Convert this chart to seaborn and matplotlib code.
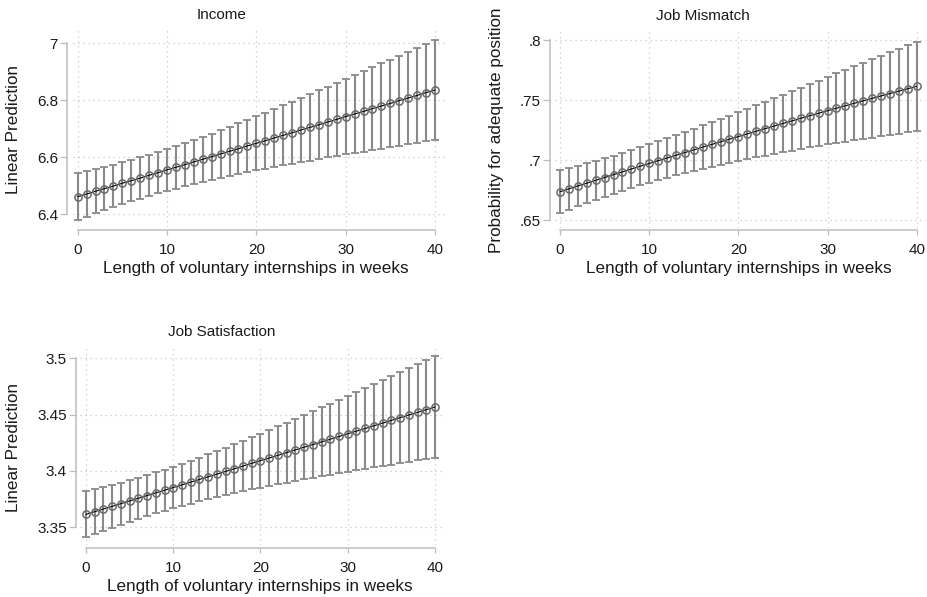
import matplotlib
matplotlib.use("Agg")
import matplotlib.pyplot as plt
import numpy as np
import pandas as pd
import seaborn as sns

# Predictive margins by internship length (weeks 0-40) with 95% CI half-widths
weeks = list(range(41))

income_pred = [6.462, 6.471, 6.481, 6.490, 6.499, 6.509, 6.518, 6.527, 6.537, 6.546,
               6.556, 6.565, 6.574, 6.584, 6.593, 6.602, 6.612, 6.621, 6.630, 6.640,
               6.649, 6.658, 6.668, 6.677, 6.686, 6.696, 6.705, 6.714, 6.724, 6.733,
               6.743, 6.752, 6.761, 6.771, 6.780, 6.789, 6.799, 6.808, 6.817, 6.827,
               6.836]
income_ci = [0.0815, 0.0794, 0.0775, 0.0759, 0.0746, 0.0736, 0.0729, 0.0725, 0.0725, 0.0728,
             0.0735, 0.0745, 0.0758, 0.0773, 0.0792, 0.0813, 0.0837, 0.0862, 0.0890, 0.0920,
             0.0951, 0.0984, 0.1018, 0.1053, 0.1089, 0.1127, 0.1165, 0.1204, 0.1244, 0.1284,
             0.1325, 0.1367, 0.1409, 0.1452, 0.1495, 0.1538, 0.1582, 0.1626, 0.1670, 0.1715,
             0.1760]

mismatch_pred = [0.6738, 0.6762, 0.6786, 0.6809, 0.6833, 0.6856, 0.6880, 0.6903, 0.6927, 0.6950,
                 0.6973, 0.6996, 0.7018, 0.7041, 0.7064, 0.7086, 0.7109, 0.7131, 0.7153, 0.7175,
                 0.7197, 0.7219, 0.7241, 0.7263, 0.7284, 0.7306, 0.7327, 0.7349, 0.7370, 0.7391,
                 0.7412, 0.7433, 0.7453, 0.7474, 0.7494, 0.7515, 0.7535, 0.7555, 0.7575, 0.7595,
                 0.7615]
mismatch_ci = [0.0178, 0.0174, 0.0170, 0.0166, 0.0163, 0.0161, 0.0159, 0.0159, 0.0158, 0.0159,
               0.0160, 0.0162, 0.0164, 0.0167, 0.0171, 0.0175, 0.0180, 0.0185, 0.0191, 0.0197,
               0.0203, 0.0210, 0.0217, 0.0224, 0.0232, 0.0240, 0.0248, 0.0256, 0.0264, 0.0272,
               0.0281, 0.0290, 0.0299, 0.0307, 0.0316, 0.0326, 0.0335, 0.0344, 0.0353, 0.0363,
               0.0372]

satisfaction_pred = [3.3615, 3.3639, 3.3663, 3.3686, 3.3710, 3.3734, 3.3758, 3.3782, 3.3806, 3.3829,
                     3.3853, 3.3877, 3.3901, 3.3925, 3.3949, 3.3972, 3.3996, 3.4020, 3.4044, 3.4068,
                     3.4092, 3.4115, 3.4139, 3.4163, 3.4187, 3.4211, 3.4234, 3.4258, 3.4282, 3.4306,
                     3.4330, 3.4354, 3.4377, 3.4401, 3.4425, 3.4449, 3.4473, 3.4497, 3.4520, 3.4544,
                     3.4568]
satisfaction_ci = [0.0205, 0.0199, 0.0195, 0.0190, 0.0187, 0.0184, 0.0182, 0.0182, 0.0181, 0.0182,
                   0.0184, 0.0187, 0.0190, 0.0194, 0.0199, 0.0204, 0.0211, 0.0217, 0.0224, 0.0232,
                   0.0240, 0.0249, 0.0258, 0.0267, 0.0276, 0.0286, 0.0296, 0.0306, 0.0316, 0.0327,
                   0.0337, 0.0348, 0.0359, 0.0370, 0.0381, 0.0392, 0.0403, 0.0415, 0.0426, 0.0437,
                   0.0449]

panel_titles = ["Income", "Job Mismatch", "Job Satisfaction"]
y_titles = ["Linear Prediction", "Probability for adequate position", "Linear Prediction"]
x_title = "Length of voluntary internships in weeks"
x_ticks = [0, 10, 20, 30, 40]
income_yticks = [6.4, 6.6, 6.8, 7.0]
income_yticklabels = ["6.4", "6.6", "6.8", "7"]
mismatch_yticks = [0.65, 0.70, 0.75, 0.80]
mismatch_yticklabels = [".65", ".7", ".75", ".8"]
satisfaction_yticks = [3.35, 3.40, 3.45, 3.50]
satisfaction_yticklabels = ["3.35", "3.4", "3.45", "3.5"]

sns.set_theme(style="ticks")
plt.rcParams["font.family"] = ["Liberation Sans", "DejaVu Sans"]

W, H = 928, 597
fig = plt.figure(figsize=(W / 100, H / 100), dpi=100)


def px_rect(left, top, right, bottom):
    return [left / W, 1 - bottom / H, (right - left) / W, (bottom - top) / H]


panels = [
    dict(pred=income_pred, ci=income_ci, yticks=income_yticks, ylabels=income_yticklabels,
         rect=px_rect(73, 30, 446, 227), xlim=(-0.526, 41.23), ylim=(6.3554, 7.0467),
         off_left=6, off_bottom=3, title_xy=(222, 15), xlab_xy=(256, 268), ylab_xy=(14, 130)),
    dict(pred=mismatch_pred, ci=mismatch_ci, yticks=mismatch_yticks, ylabels=mismatch_yticklabels,
         rect=px_rect(555, 29, 926, 228), xlim=(-0.561, 41.04), ylim=(0.6436, 0.8092),
         off_left=5, off_bottom=2, title_xy=(703, 16), xlab_xy=(739, 268), ylab_xy=(497, 130)),
    dict(pred=satisfaction_pred, ci=satisfaction_ci, yticks=satisfaction_yticks,
         ylabels=satisfaction_yticklabels,
         rect=px_rect(80, 346.7, 445, 545), xlim=(-0.688, 41.15), ylim=(3.3343, 3.5103),
         off_left=4, off_bottom=3.3, title_xy=(222, 332.5), xlab_xy=(260, 587), ylab_xy=(14, 447.5)),
]

axis_grey = "#bdbdbd"
bar_grey = "#8a8a8a"
text_col = "#1a1a1a"

for i, p in enumerate(panels):
    ax = fig.add_axes(p["rect"])
    df = pd.DataFrame({"weeks": weeks, "pred": p["pred"], "ci": p["ci"]})

    ax.errorbar(df["weeks"], df["pred"], yerr=df["ci"], fmt="none", ecolor=bar_grey,
                elinewidth=1.5, capsize=3.0, capthick=1.3, zorder=2)
    sns.lineplot(data=df, x="weeks", y="pred", ax=ax, color="black", linewidth=0.8,
                 marker="o", markersize=5.2, markerfacecolor="none",
                 markeredgecolor="#6a6a6a", markeredgewidth=1.1, errorbar=None, zorder=3)

    ax.set_xlim(*p["xlim"])
    ax.set_ylim(*p["ylim"])
    ax.set_xticks(x_ticks)
    ax.set_xticklabels([str(t) for t in x_ticks])
    ax.set_yticks(p["yticks"])
    ax.set_yticklabels(p["ylabels"])

    ax.grid(True, color="#c8c8c8", linestyle=(0, (1, 3)), linewidth=0.9)
    ax.set_axisbelow(True)

    for side in ("top", "right"):
        ax.spines[side].set_visible(False)
    ax.spines["left"].set_position(("outward", p["off_left"] * 0.72))
    ax.spines["bottom"].set_position(("outward", p["off_bottom"] * 0.72))
    ax.spines["left"].set_bounds(p["yticks"][0], p["yticks"][-1])
    ax.spines["bottom"].set_bounds(x_ticks[0], x_ticks[-1])
    for side in ("left", "bottom"):
        ax.spines[side].set_color(axis_grey)
        ax.spines[side].set_linewidth(1.1)

    ax.tick_params(axis="y", left=True, length=5, width=0.9, color=axis_grey, pad=1.5,
                   labelsize=11, labelcolor=text_col)
    ax.tick_params(axis="x", bottom=True, length=3.6, width=0.9, color=axis_grey, pad=5.5,
                   labelsize=11, labelcolor=text_col)

    ax.set_xlabel(x_title, fontsize=12.3, color=text_col)
    ax.set_ylabel(y_titles[i], fontsize=12.3, color=text_col)
    ax.xaxis.set_label_coords(p["xlab_xy"][0] / W, 1 - p["xlab_xy"][1] / H,
                              transform=fig.transFigure)
    ax.xaxis.label.set_verticalalignment("center")
    ax.yaxis.set_label_coords(p["ylab_xy"][0] / W, 1 - p["ylab_xy"][1] / H,
                              transform=fig.transFigure)
    ax.yaxis.label.set_verticalalignment("center")

    fig.text(p["title_xy"][0] / W, 1 - p["title_xy"][1] / H, panel_titles[i],
             ha="center", va="center", fontsize=11, color=text_col)

fig.savefig("out.png", dpi=100, facecolor="white")
